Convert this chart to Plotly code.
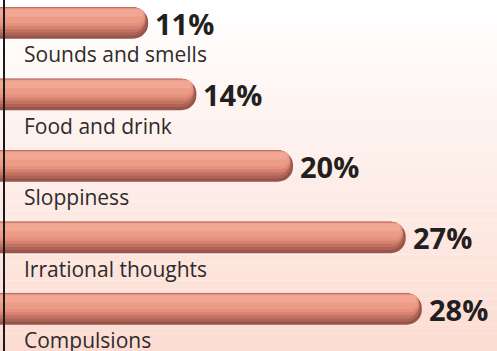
import math
import plotly.graph_objects as go

categories = ["Sounds and smells", "Food and drink", "Sloppiness", "Irrational thoughts", "Compulsions"]
values = [11, 14, 20, 27, 28]
value_labels = ["11%", "14%", "20%", "27%", "28%"]

W, H = 497, 351
XR = [1.8, 32.67]
YR = [4.587, -0.322]
px_per_x = W / (XR[1] - XR[0])
px_per_cat = H / (YR[0] - YR[1])

fig = go.Figure()

# background vertical gradient
n = 40
top = (255, 255, 255)
bot = (252, 220, 210)
for i in range(n):
    t = i / (n - 1)
    c = tuple(int(round(top[k] + (bot[k] - top[k]) * t)) for k in range(3))
    fig.add_shape(type="rect", xref="paper", yref="paper",
                  x0=0, x1=1, y0=1 - (i + 1) / n, y1=1 - i / n,
                  fillcolor="rgb(%d,%d,%d)" % c, line_width=0, layer="below")

bw = 0.44  # bar thickness in category units
R = bw * px_per_cat / 2  # bar half thickness in px

# shading bands: (top fraction, bottom fraction, colour); 0 = top edge, 1 = bottom edge
bands = [
    (0.00, 1.00, "#97544a"),
    (0.00, 0.90, "#ad6457"),
    (0.00, 0.80, "#c27263"),
    (0.02, 0.70, "#d6826f"),
    (0.03, 0.60, "#e5917d"),
    (0.04, 0.50, "#ec9b87"),
    (0.06, 0.30, "#f2a794"),
]
for a, b, col in bands:
    thick = (b - a) * bw
    r_px = (b - a) * R
    c_px = ((a + b) / 2 - 0.5) * 2 * R  # offset of band centre from bar centre
    d = math.sqrt(max((R - r_px) ** 2 - c_px ** 2, 0))
    shrink_px = R - r_px - d
    xs = [v - shrink_px / px_per_x for v in values]
    fig.add_trace(go.Bar(y=categories, x=xs, orientation="h", width=thick,
                         offset=-bw / 2 + a * bw,
                         marker=dict(color=col, cornerradius="50%", line_width=0),
                         hoverinfo="skip"))

for c, v, lab in zip(categories, values, value_labels):
    fig.add_annotation(x=v, y=c, text=lab, xanchor="left", yanchor="middle",
                       xshift=5, showarrow=False,
                       font=dict(family="Open Sans", size=29, color="#231f20", weight="bold"))
    fig.add_annotation(x=22 / W, xref="paper", y=c, text=c, xanchor="left",
                       yanchor="middle", yshift=-31, showarrow=False,
                       font=dict(family="Open Sans", size=21, color="#2e2b2b"))

# axis line
fig.add_shape(type="line", xref="paper", yref="paper", x0=4 / W, x1=4 / W, y0=0, y1=1,
              line=dict(color="#1a1a1a", width=2))

fig.update_layout(
    width=W, height=H, margin=dict(l=0, r=0, t=0, b=0),
    barmode="overlay", showlegend=False,
    paper_bgcolor="white", plot_bgcolor="rgba(0,0,0,0)",
    xaxis=dict(range=XR, visible=False, fixedrange=True),
    yaxis=dict(range=YR, visible=False, categoryorder="array",
               categoryarray=categories, fixedrange=True),
)

fig.write_html("out.html", config={"displayModeBar": False})
